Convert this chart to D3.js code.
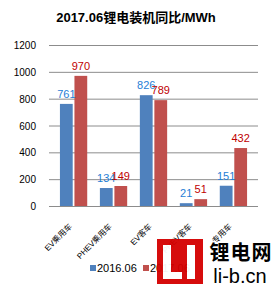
<!DOCTYPE html>
<html>
<head>
<meta charset="utf-8">
<script src="https://cdnjs.cloudflare.com/ajax/libs/d3/7.8.5/d3.min.js"></script>
<style>
  body { margin: 0; background: #fff; }
  text { font-family: "Liberation Sans", "Noto Sans CJK SC", sans-serif; }
</style>
</head>
<body>
<svg id="chart"></svg>
<script>
const categories = ["EV乘用车", "PHEV乘用车", "EV客车", "PHEV客车", "专用车"];
const seriesNames = ["2016.06", "2017.06"];
const values2016 = [761, 134, 826, 21, 151];
const values2017 = [970, 149, 789, 51, 432];
const yTicks = [0, 200, 400, 600, 800, 1000, 1200];

const W = 273, H = 287;
const margin = { top: 45, right: 15, bottom: 81, left: 49 },
      width = W - margin.left - margin.right,
      height = H - margin.top - margin.bottom;

const colors = ["#4f81bd", "#c0504d"];
const labelColors = ["#1f80d6", "#c00000"];

const root = d3.select("#chart").attr("width", W).attr("height", H);

root.append("text")
    .attr("x", 136).attr("y", 22)
    .attr("text-anchor", "middle")
    .style("font-size", "13px").style("font-weight", "bold")
    .text("2017.06锂电装机同比/MWh");

const svg = root.append("g").attr("transform", `translate(${margin.left},${margin.top})`);

const x0 = d3.scaleBand().domain(categories).range([0, width]).padding(0.23);
const x1 = d3.scaleBand().domain(seriesNames).range([0, x0.bandwidth()]).padding(0.12);
const y = d3.scaleLinear().domain([0, 1200]).range([height, 0]);

// gridlines
svg.append("g")
    .selectAll("line")
    .data(yTicks)
    .join("line")
    .attr("x1", 0).attr("x2", width)
    .attr("y1", d => y(d) + 0.5).attr("y2", d => y(d) + 0.5)
    .attr("stroke", "#8c8c8c").attr("stroke-width", 1);

// y labels
svg.append("g")
    .selectAll("text")
    .data(yTicks)
    .join("text")
    .attr("x", -13).attr("y", d => y(d) + 4)
    .attr("text-anchor", "end")
    .style("font-size", "10px").attr("fill", "#000")
    .text(d => d);

const rows = categories.map((c, i) => ({ cat: c, vals: [values2016[i], values2017[i]] }));

const groups = svg.selectAll(".grp")
    .data(rows)
    .join("g")
    .attr("class", "grp")
    .attr("transform", d => `translate(${x0(d.cat)},0)`);

groups.selectAll("rect")
    .data(d => d.vals.map((v, k) => ({ k, v })))
    .join("rect")
    .attr("x", d => x1(seriesNames[d.k]))
    .attr("y", d => y(d.v))
    .attr("width", x1.bandwidth())
    .attr("height", d => height - y(d.v))
    .attr("fill", d => colors[d.k]);

groups.selectAll(".lbl")
    .data(d => d.vals.map((v, k) => ({ k, v })))
    .join("text")
    .attr("class", "lbl")
    .attr("x", d => x1(seriesNames[d.k]) + x1.bandwidth() / 2)
    .attr("y", d => y(d.v) - 6)
    .attr("text-anchor", "middle")
    .style("font-size", "11px")
    .attr("fill", d => labelColors[d.k])
    .text(d => d.v);

// category labels
svg.append("g")
    .selectAll("text")
    .data(categories)
    .join("text")
    .attr("transform", d => `translate(${x0(d) + x0.bandwidth() / 2 - 1},${height + 21}) rotate(-45)`)
    .attr("text-anchor", "end")
    .style("font-size", "8px")
    .text(d => d);

// legend
const legend = root.append("g").attr("transform", "translate(90,268)");
seriesNames.forEach((s, k) => {
    const g = legend.append("g").attr("transform", `translate(${k * 53},0)`);
    g.append("rect").attr("x", 0).attr("y", -3).attr("width", 6).attr("height", 6).attr("fill", colors[k]);
    g.append("text").attr("x", 7).attr("y", 4).style("font-size", "11px").text(s);
});

// watermark
const wm = root.append("g").attr("opacity", 0.95);
wm.append("rect").attr("x", 157).attr("y", 239).attr("width", 46).attr("height", 45).attr("fill", "#d40000");
wm.append("path").attr("d", "M163,245 H171 V272 H182 V279 H163 Z").attr("fill", "#fff");
wm.append("rect").attr("x", 187).attr("y", 245).attr("width", 8).attr("height", 34).attr("fill", "#fff");
root.append("text").attr("x", 241).attr("y", 260).attr("text-anchor", "middle")
    .style("font-size", "20px").style("font-weight", "bold").style("letter-spacing", "1px")
    .style("font-family", "Noto Sans CJK SC").text("锂电网");
root.append("text").attr("x", 240).attr("y", 283).attr("text-anchor", "middle")
    .style("font-size", "20px").style("font-family", "Liberation Sans Narrow, Liberation Sans").text("li-b.cn");
</script>
</body>
</html>
